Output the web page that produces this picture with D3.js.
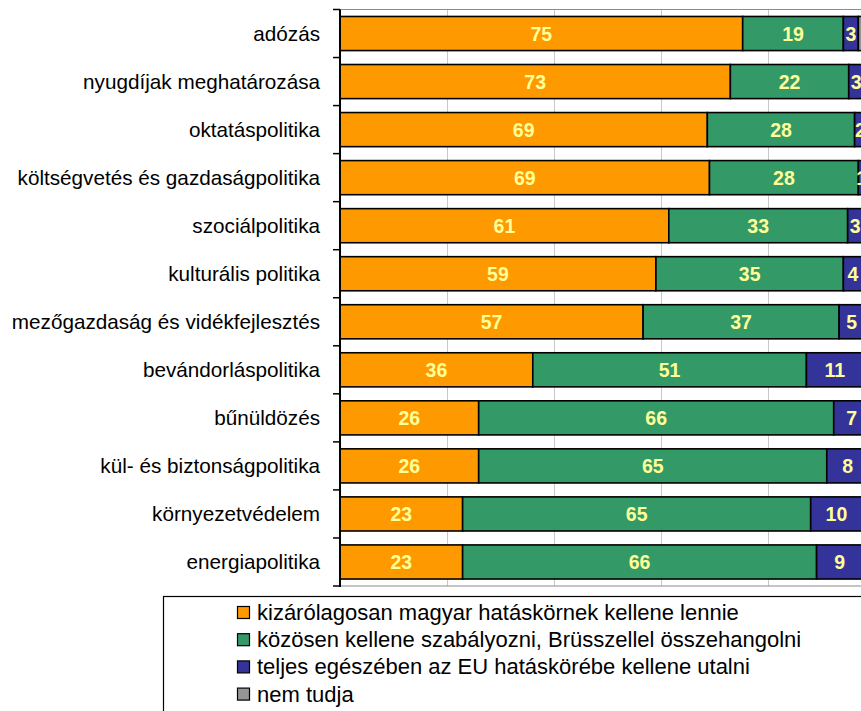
<!DOCTYPE html>
<html>
<head>
<meta charset="utf-8">
<script src="https://cdn.jsdelivr.net/npm/d3@7"></script>
<style>
  html, body { margin: 0; padding: 0; background: #fff; }
  svg { display: block; }
  text { font-family: Arial, "Liberation Sans", sans-serif; }
</style>
</head>
<body>
<div id="chart"></div>
<script>
const categories = [
  "adózás",
  "nyugdíjak meghatározása",
  "oktatáspolitika",
  "költségvetés és gazdaságpolitika",
  "szociálpolitika",
  "kulturális politika",
  "mezőgazdaság és vidékfejlesztés",
  "bevándorláspolitika",
  "bűnüldözés",
  "kül- és biztonságpolitika",
  "környezetvédelem",
  "energiapolitika"
];
const kizarolag = [75.2, 72.9, 68.6, 69.0, 61.4, 59.0, 56.6, 36.0, 25.9, 25.9, 22.9, 22.9];
const kozosen   = [18.8, 22.1, 27.5, 27.8, 33.4, 35.0, 36.6, 51.1, 66.3, 65.0, 65.0, 66.1];
const euHatas   = [2.8, 2.8, 2.2, 1.2, 2.8, 3.6, 4.7, 10.6, 6.7, 7.8, 9.6, 8.6];
const nemTudja  = [3.2, 2.2, 1.7, 2.0, 2.4, 2.4, 2.1, 2.3, 1.1, 1.3, 2.5, 2.4];

const seriesKeys = ["kizarolag", "kozosen", "euHatas", "nemTudja"];
const seriesNames = [
  "kizárólagosan magyar hatáskörnek kellene lennie",
  "közösen kellene szabályozni, Brüsszellel összehangolni",
  "teljes egészében az EU hatáskörébe kellene utalni",
  "nem tudja"
];
const seriesColors = ["#FF9900", "#339966", "#333399", "#969696"];
const xTicks = [20, 40, 60, 80];

const W = 861, H = 711;
const svg = d3.select("#chart").append("svg").attr("width", W).attr("height", H);
svg.append("rect").attr("width", W).attr("height", H).attr("fill", "#fff");

const table = categories.map((c, i) => ({
  cat: c, kizarolag: kizarolag[i], kozosen: kozosen[i], euHatas: euHatas[i], nemTudja: nemTudja[i]
}));
const stacked = d3.stack().keys(seriesKeys)(table);

const x = d3.scaleLinear().domain([0, 100]).range([340, 875.5]);
const y = d3.scaleBand().domain(categories).range([9.5, 586])
  .paddingInner(0.29).paddingOuter(0.145);

// gridlines
svg.append("g").selectAll("line").data(xTicks).join("line")
  .attr("x1", d => Math.round(x(d)) + 0.5).attr("x2", d => Math.round(x(d)) + 0.5)
  .attr("y1", 9.5).attr("y2", 586)
  .attr("stroke", "#c8c8c8").attr("stroke-width", 1);

// plot border (top/bottom/right)
svg.append("path")
  .attr("d", `M${x(0)},9.5 H${x(100)} V586 H${x(0)}`)
  .attr("fill", "none").attr("stroke", "#8c8c8c").attr("stroke-width", 1.2);

// bars
const layers = svg.append("g").selectAll("g").data(stacked).join("g")
  .attr("fill", (d, i) => seriesColors[i]);
layers.selectAll("rect").data(d => d).join("rect")
  .attr("x", d => x(d[0]))
  .attr("y", d => y(d.data.cat))
  .attr("width", d => x(d[1]) - x(d[0]))
  .attr("height", y.bandwidth())
  .attr("stroke", "#000").attr("stroke-width", 1.6);

// value labels (first three series)
stacked.slice(0, 3).forEach(layer => {
  svg.append("g").selectAll("text").data(layer).join("text")
    .attr("x", d => (x(d[0]) + x(d[1])) / 2)
    .attr("y", d => y(d.data.cat) + y.bandwidth() / 2 + 7)
    .attr("text-anchor", "middle")
    .attr("font-size", "19.5px").attr("font-weight", "bold")
    .attr("fill", "#FFFF99")
    .text(d => Math.round(d[1] - d[0]));
});

// left axis
const step = y.step();
const bounds = d3.range(categories.length + 1).map(i => y.range()[0] + i * step);
const ax = svg.append("g");
ax.append("line").attr("x1", 340).attr("x2", 340).attr("y1", 9.5).attr("y2", 587)
  .attr("stroke", "#000").attr("stroke-width", 2);
ax.selectAll("line.tick").data(bounds).join("line").attr("class", "tick")
  .attr("x1", 333).attr("x2", 340).attr("y1", d => d).attr("y2", d => d)
  .attr("stroke", "#000").attr("stroke-width", 1.5);
ax.selectAll("text").data(categories).join("text")
  .attr("x", 320).attr("y", d => y(d) + y.bandwidth() / 2 + 7)
  .attr("text-anchor", "end").attr("font-size", "20.7px").attr("fill", "#000")
  .text(d => d);

// legend
const lg = svg.append("g");
lg.append("rect").attr("x", 163.5).attr("y", 596.5).attr("width", 800).attr("height", 200)
  .attr("fill", "#fff").attr("stroke", "#000").attr("stroke-width", 1.2);
const rowY = i => 612.5 + i * 27.2;
lg.selectAll("rect.m").data(seriesNames).join("rect").attr("class", "m")
  .attr("x", 237.5).attr("y", (d, i) => rowY(i) - 6).attr("width", 12).attr("height", 12)
  .attr("fill", (d, i) => seriesColors[i]).attr("stroke", "#000").attr("stroke-width", 1.2);
lg.selectAll("text").data(seriesNames).join("text")
  .attr("x", 257).attr("y", (d, i) => rowY(i) + 7.5)
  .attr("font-size", "22px").attr("fill", "#000")
  .text(d => d);
</script>
</body>
</html>
